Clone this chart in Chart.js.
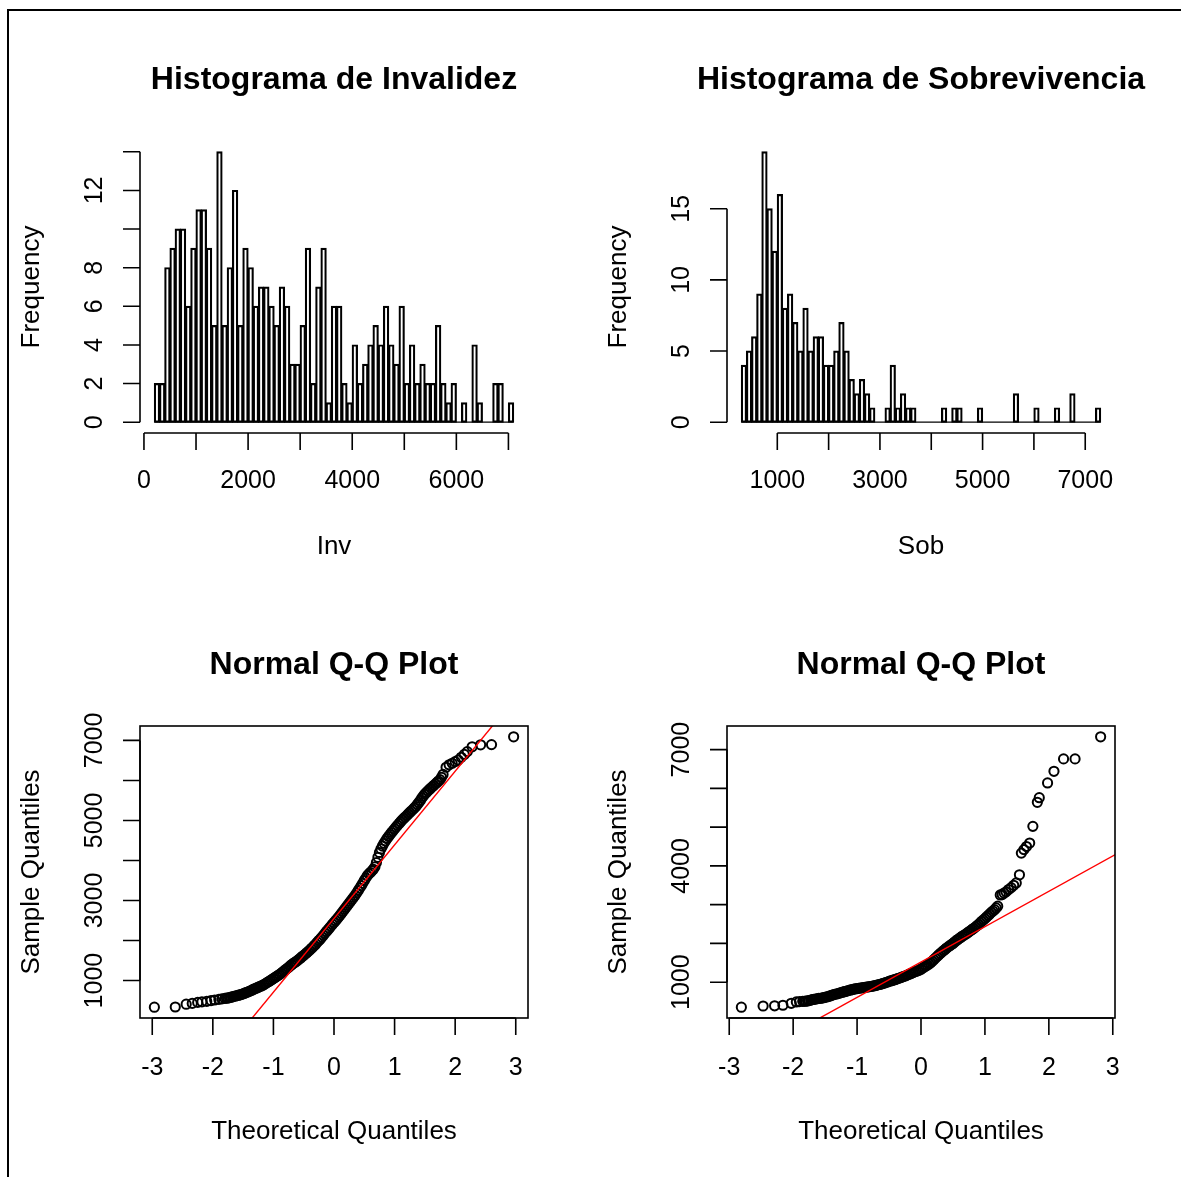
<!DOCTYPE html>
<html>
<head>
<meta charset="utf-8">
<title>Invalidez y Sobrevivencia</title>
<script src="https://cdn.jsdelivr.net/npm/chart.js@4.4.1/dist/chart.umd.min.js"></script>
<style>
  body { margin: 0; background: #fff; }
  #page { position: relative; width: 1181px; height: 1177px; overflow: hidden; background: #fff; }
  #frame { position: absolute; left: 7px; top: 9px; width: 1200px; height: 1200px;
           border-top: 2px solid #000; border-left: 2px solid #000; }
  canvas { position: absolute; left: 0; top: 0; }
</style>
</head>
<body>
<div id="page">
  <div id="frame"></div>
  <canvas id="histInv" width="1181" height="1177"></canvas>
  <canvas id="histSob" width="1181" height="1177"></canvas>
  <canvas id="qqInv" width="1181" height="1177"></canvas>
  <canvas id="qqSob" width="1181" height="1177"></canvas>
</div>
<script>
// ---- Histograma de Invalidez (Inv): classes of 100 starting at 200
const invBreakStart = 200;
const invBinWidth = 100;
const invCounts = [
  2, 2, 8, 9, 10, 10, 6, 9, 11, 11, 9, 5, 14, 5, 8, 12, 5, 9, 8, 6, 7, 7, 6,
  5, 7, 6, 3, 3, 5, 9, 2, 7, 9, 1, 6, 6, 2, 1, 4, 2, 3, 4, 5, 4, 6, 4,
  3, 6, 2, 4, 2, 3, 2, 2, 5, 2, 1, 2, 0, 1, 0, 4, 1, 0, 0, 2, 2, 0, 1
];
const invXTicks = [0, 1000, 2000, 3000, 4000, 5000, 6000, 7000];
const invXLabels = [0, 2000, 4000, 6000];
const invYTicks = [0, 2, 4, 6, 8, 10, 12, 14];
const invYLabels = [0, 2, 4, 6, 8, 12];

// ---- Histograma de Sobrevivencia (Sob): classes of 100 starting at 300
const sobBreakStart = 300;
const sobBinWidth = 100;
const sobCounts = [
  4, 5, 6, 9, 19, 15, 12, 16, 8, 9, 7, 5, 8, 5, 6, 6, 4, 4, 5, 7, 5, 3, 2, 3,
  2, 1, 0, 0, 1, 4, 1, 2, 1, 1, 0,
  0, 0, 0, 0, 1, 0, 1, 1, 0, 0, 0, 1, 0, 0, 0, 0, 0, 0, 2, 0, 0, 0, 1,
  0, 0, 0, 1, 0, 0, 2, 0, 0, 0, 0, 1
];
const sobXTicks = [1000, 2000, 3000, 4000, 5000, 6000, 7000];
const sobXLabels = [1000, 3000, 5000, 7000];
const sobYTicks = [0, 5, 10, 15];
const sobYLabels = [0, 5, 10, 15];

// ---- Normal Q-Q plot of Inv (theoretical quantile, sample quantile)
const qqInvTheo = [
  -2.965, -2.62, -2.44, -2.34, -2.25, -2.18, -2.10, -2.03, -1.97, -1.90, -1.85,
  -1.80, -1.75, -1.70, -1.65, -1.60, -1.55, -1.50, -1.45, -1.40, -1.35,
  -1.30, -1.25, -1.20, -1.15, -1.10, -1.05, -1.00, -0.95, -0.90, -0.85,
  -0.80, -0.75, -0.70, -0.65, -0.60, -0.55, -0.50, -0.45, -0.40, -0.35,
  -0.30, -0.25, -0.20, -0.15, -0.10, -0.05, 0.00, 0.05, 0.10, 0.15,
  0.20, 0.25, 0.30, 0.35, 0.40, 0.45, 0.50, 0.55, 0.60, 0.65,
  0.70, 0.75, 0.80, 0.85, 0.90, 0.95, 1.00, 1.05, 1.10, 1.15,
  1.20, 1.25, 1.30, 1.35, 1.40, 1.45, 1.50, 1.55, 1.60, 1.65,
  1.70, 1.75, 1.80, 1.85, 1.90, 1.95, 2.00, 2.05, 2.10, 2.15, 2.20,
  2.28, 2.42, 2.60, 2.965
];
const qqInvSample = [
  335, 340, 410, 430, 455, 470, 480, 500, 515, 530, 545,
  555, 565, 585, 605, 625, 645, 670, 700, 730, 765,
  800, 835, 865, 905, 955, 1000, 1050, 1100, 1150, 1210,
  1270, 1330, 1395, 1450, 1505, 1565, 1630, 1695, 1760, 1835,
  1915, 2000, 2085, 2180, 2270, 2360, 2450, 2540, 2630, 2730,
  2830, 2930, 3030, 3130, 3250, 3370, 3500, 3620, 3700, 3780,
  3950, 4200, 4360, 4490, 4600, 4700, 4790, 4880, 4970, 5050,
  5120, 5200, 5270, 5350, 5450, 5560, 5660, 5740, 5810, 5880,
  5950, 6020, 6150, 6330, 6390, 6430, 6470, 6510, 6580, 6650, 6720,
  6840, 6890, 6895, 7090
];
// further points read along the dense (solid black) part of the band
const qqInvBandTheo = [
  -1.775, -1.725, -1.675, -1.625, -1.575, -1.525, -1.475, -1.425, -1.375, -1.325,
  -1.275, -1.225, -1.175, -1.125, -1.075, -1.025, -0.975, -0.925, -0.875, -0.825,
  -0.775, -0.725, -0.675, -0.625, -0.575, -0.525, -0.475, -0.425, -0.375, -0.325,
  -0.275, -0.225, -0.175, -0.125, -0.075, -0.025, 0.025, 0.075, 0.125, 0.175,
  0.225, 0.275, 0.325, 0.375, 0.425, 0.475, 0.525, 0.575, 0.625, 0.675,
  0.725, 0.775, 0.825, 0.875, 0.925, 0.975, 1.025, 1.075, 1.125, 1.175,
  1.225, 1.275, 1.325, 1.375, 1.425, 1.475, 1.525, 1.575, 1.625, 1.675,
  1.725, 1.775
];
const qqInvBandSample = [
  560, 575, 595, 615, 635, 655, 685, 715, 745, 785,
  815, 850, 885, 930, 975, 1025, 1075, 1125, 1180, 1240,
  1300, 1365, 1425, 1475, 1535, 1600, 1660, 1730, 1800, 1875,
  1960, 2040, 2130, 2225, 2315, 2405, 2495, 2585, 2680, 2780,
  2880, 2980, 3080, 3190, 3310, 3430, 3560, 3665, 3740, 3840,
  4080, 4290, 4430, 4550, 4650, 4745, 4835, 4925, 5010, 5085,
  5160, 5235, 5310, 5400, 5500, 5610, 5700, 5775, 5845, 5915,
  5985, 6080
];
const qqInvLine = { intercept: 2550, slope: 1840 };
const qqInvXTicks = [-3, -2, -1, 0, 1, 2, 3];
const qqInvYTicks = [1000, 2000, 3000, 4000, 5000, 6000, 7000];
const qqInvYLabels = [1000, 3000, 5000, 7000];

// ---- Normal Q-Q plot of Sob
const qqSobTheo = [
  -2.81, -2.47, -2.29, -2.16, -2.03, -1.95, -1.90,
  -1.85, -1.80, -1.75, -1.70, -1.65, -1.60, -1.55, -1.50, -1.45, -1.40,
  -1.35, -1.30, -1.25, -1.20, -1.15, -1.10, -1.05, -1.00, -0.95, -0.90,
  -0.85, -0.80, -0.75, -0.70, -0.65, -0.60, -0.55, -0.50, -0.45, -0.40,
  -0.35, -0.30, -0.25, -0.20, -0.15, -0.10, -0.05, 0.00, 0.05, 0.10,
  0.15, 0.20, 0.25, 0.30, 0.35, 0.40, 0.45, 0.50, 0.55, 0.60,
  0.65, 0.70, 0.75, 0.80, 0.85, 0.90, 0.95, 1.00, 1.05, 1.10, 1.15, 1.20,
  1.24, 1.27, 1.30, 1.33, 1.37, 1.41, 1.45, 1.49, 1.54, 1.57, 1.61,
  1.65, 1.70, 1.75, 1.82, 1.85, 1.98, 2.08, 2.23, 2.41, 2.81
];
const qqSobSample = [
  355, 385, 390, 405, 455, 490, 500,
  505, 510, 525, 550, 565, 580, 590, 610, 630, 660,
  685, 705, 730, 755, 775, 800, 820, 835, 850, 860,
  875, 885, 900, 920, 940, 965, 990, 1020, 1045, 1070,
  1100, 1130, 1160, 1195, 1230, 1265, 1295, 1335, 1390, 1440,
  1500, 1580, 1660, 1740, 1810, 1880, 1940, 2000, 2070, 2130,
  2190, 2240, 2300, 2360, 2420, 2490, 2570, 2640, 2720, 2800, 2870, 2960,
  3250, 3260, 3300, 3330, 3390, 3440, 3500, 3560, 3770, 4330, 4420,
  4500, 4590, 5020, 5640, 5760, 6140, 6440, 6760, 6760, 7330
];
const qqSobBandTheo = [
  -1.825, -1.775, -1.725, -1.675, -1.625, -1.575, -1.525, -1.475, -1.425, -1.375,
  -1.325, -1.275, -1.225, -1.175, -1.125, -1.075, -1.025, -0.975, -0.925, -0.875,
  -0.825, -0.775, -0.725, -0.675, -0.625, -0.575, -0.525, -0.475, -0.425, -0.375,
  -0.325, -0.275, -0.225, -0.175, -0.125, -0.075, -0.025, 0.025, 0.075, 0.125,
  0.175, 0.225, 0.275, 0.325, 0.375, 0.425, 0.475, 0.525, 0.575, 0.625,
  0.675, 0.725, 0.775, 0.825, 0.875, 0.925, 0.975, 1.025, 1.075, 1.125, 1.175
];
const qqSobBandSample = [
  508, 518, 538, 558, 572, 585, 600, 620, 645, 672,
  695, 718, 742, 765, 788, 810, 828, 842, 855, 868,
  880, 892, 910, 930, 952, 978, 1005, 1032, 1058, 1085,
  1115, 1145, 1178, 1212, 1248, 1280, 1315, 1362, 1415, 1470,
  1540, 1620, 1700, 1775, 1845, 1910, 1970, 2035, 2100, 2160,
  2215, 2270, 2330, 2390, 2455, 2530, 2605, 2680, 2760, 2835, 2915
];
const qqSobLine = { intercept: 1520, slope: 912 };
const qqSobXTicks = [-3, -2, -1, 0, 1, 2, 3];
const qqSobYTicks = [1000, 2000, 3000, 4000, 5000, 6000, 7000];
const qqSobYLabels = [1000, 4000, 7000];

// ---- Layout (page pixels): plot regions [left, top, right, bottom]
const W = 1181, H = 1177;
const TICK_FONT = '25px "Liberation Sans", Arial, sans-serif';
const LAB_FONT = '26px "Liberation Sans", Arial, sans-serif';
const TITLE_FONT = 'bold 32px "Liberation Sans", Arial, sans-serif';
const LINE_W = 1.6;
const TICK_LEN = 17;

function padFor(rect) {
    return { left: rect[0], top: rect[1], right: W - rect[2], bottom: H - rect[3] };
}

// R base-graphics look: axis lines spanning first..last tick, outward ticks,
// labels parallel to the axis, optional box, titles.
const rStyle = {
    id: 'rStyle',
    afterDatasetsDraw(chart, args, o) {
        const ctx = chart.ctx;
        const a = chart.chartArea;
        const xs = chart.scales.x;
        const ys = chart.scales.y;
        ctx.save();
        ctx.strokeStyle = '#000';
        ctx.fillStyle = '#000';
        ctx.lineWidth = LINE_W;

        if (o.box) {
            ctx.strokeRect(a.left, a.top, a.right - a.left, a.bottom - a.top);
        }

        // x axis
        const xp = o.xTicks.map(v => xs.getPixelForValue(v));
        ctx.beginPath();
        ctx.moveTo(xp[0], a.bottom);
        ctx.lineTo(xp[xp.length - 1], a.bottom);
        xp.forEach(p => { ctx.moveTo(p, a.bottom); ctx.lineTo(p, a.bottom + TICK_LEN); });
        ctx.stroke();

        // y axis
        const yp = o.yTicks.map(v => ys.getPixelForValue(v));
        ctx.beginPath();
        ctx.moveTo(a.left, yp[0]);
        ctx.lineTo(a.left, yp[yp.length - 1]);
        yp.forEach(p => { ctx.moveTo(a.left, p); ctx.lineTo(a.left - TICK_LEN, p); });
        ctx.stroke();

        ctx.font = TICK_FONT;
        ctx.textAlign = 'center';
        ctx.textBaseline = 'middle';
        o.xTicks.forEach((v, i) => {
            if (o.xLabels.includes(v)) ctx.fillText(String(v), xp[i], a.bottom + o.labGap);
        });
        o.yTicks.forEach((v, i) => {
            if (!o.yLabels.includes(v)) return;
            ctx.save();
            ctx.translate(a.left - 45, yp[i]);
            ctx.rotate(-Math.PI / 2);
            ctx.fillText(String(v), 0, 0);
            ctx.restore();
        });

        // axis titles
        const cx = (a.left + a.right) / 2;
        const cy = (a.top + a.bottom) / 2;
        ctx.font = LAB_FONT;
        ctx.fillText(o.xTitle, cx, a.bottom + 114);
        ctx.save();
        ctx.translate(a.left - 108, cy);
        ctx.rotate(-Math.PI / 2);
        ctx.fillText(o.yTitle, 0, 0);
        ctx.restore();

        // main title
        ctx.font = TITLE_FONT;
        ctx.fillText(o.title, cx, a.top - 61);
        ctx.restore();
    }
};

function drawHist(id, rect, start, width, counts, axes) {
    const bars = counts.map((c, i) => ({ x: start + width * (i + 0.5), y: c }));
    const end = start + width * counts.length;
    const span = end - start;
    const top = Math.max(...counts);

    new Chart(document.getElementById(id), {
        type: 'bar',
        data: {
            datasets: [{
                data: bars,
                backgroundColor: 'rgba(0,0,0,0)',
                borderColor: '#000',
                borderWidth: 1.1,
                borderSkipped: false,
                inflateAmount: 0.55,
                barPercentage: 1,
                categoryPercentage: 1
            }, {
                // baseline under the bars (empty classes included)
                type: 'line',
                data: [{ x: start, y: 0 }, { x: end, y: 0 }],
                borderColor: '#000',
                borderWidth: 1.3,
                pointRadius: 0
            }]
        },
        options: {
            responsive: false,
            animation: false,
            devicePixelRatio: 1,
            layout: { padding: padFor(rect) },
            plugins: { legend: { display: false }, tooltip: { enabled: false }, rStyle: axes },
            scales: {
                x: { type: 'linear', display: false, offset: false,
                     min: start - 0.04 * span, max: end + 0.04 * span },
                y: { type: 'linear', display: false, min: -0.04 * top, max: top * 1.04 }
            }
        },
        plugins: [rStyle]
    });
}

function drawQQ(id, rect, theo, sample, bandTheo, bandSample, line, axes) {
    const pts = theo.map((t, i) => ({ x: t, y: sample[i] }))
        .concat(bandTheo.map((t, i) => ({ x: t, y: bandSample[i] })));
    const xr = Math.max(...theo) - Math.min(...theo);
    const yr = Math.max(...sample) - Math.min(...sample);
    const xMin = Math.min(...theo) - 0.04 * xr;
    const xMax = Math.max(...theo) + 0.04 * xr;
    const yMin = Math.min(...sample) - 0.04 * yr;
    const yMax = Math.max(...sample) + 0.04 * yr;
    // qqline, extended past the box and clipped by the chart area
    const ends = [xMin - 1, xMax + 1].map(x => ({ x: x, y: line.intercept + line.slope * x }));

    new Chart(document.getElementById(id), {
        type: 'scatter',
        data: {
            datasets: [{
                data: pts,
                order: 2,
                pointStyle: 'circle',
                pointRadius: 4.6,
                pointBorderWidth: 2,
                pointBorderColor: '#000',
                pointBackgroundColor: 'rgba(0,0,0,0)'
            }, {
                // drawn after the points, like qqline()
                type: 'line',
                data: ends,
                order: 1,
                borderColor: '#ff0000',
                borderWidth: 1.4,
                pointRadius: 0
            }]
        },
        options: {
            responsive: false,
            animation: false,
            devicePixelRatio: 1,
            layout: { padding: padFor(rect) },
            plugins: { legend: { display: false }, tooltip: { enabled: false }, rStyle: axes },
            scales: {
                x: { type: 'linear', display: false, min: xMin, max: xMax },
                y: { type: 'linear', display: false, min: yMin, max: yMax }
            }
        },
        plugins: [rStyle]
    });
}

drawHist('histInv', [140, 141, 528, 433], invBreakStart, invBinWidth, invCounts, {
    title: 'Histograma de Invalidez', xTitle: 'Inv', yTitle: 'Frequency', labGap: 48,
    xTicks: invXTicks, xLabels: invXLabels, yTicks: invYTicks, yLabels: invYLabels, box: false
});

drawHist('histSob', [727, 141, 1115, 433], sobBreakStart, sobBinWidth, sobCounts, {
    title: 'Histograma de Sobrevivencia', xTitle: 'Sob', yTitle: 'Frequency', labGap: 48,
    xTicks: sobXTicks, xLabels: sobXLabels, yTicks: sobYTicks, yLabels: sobYLabels, box: false
});

drawQQ('qqInv', [140, 726, 528, 1018], qqInvTheo, qqInvSample, qqInvBandTheo, qqInvBandSample, qqInvLine, {
    title: 'Normal Q-Q Plot', xTitle: 'Theoretical Quantiles', yTitle: 'Sample Quantiles', labGap: 50,
    xTicks: qqInvXTicks, xLabels: qqInvXTicks, yTicks: qqInvYTicks, yLabels: qqInvYLabels, box: true
});

drawQQ('qqSob', [727, 726, 1115, 1018], qqSobTheo, qqSobSample, qqSobBandTheo, qqSobBandSample, qqSobLine, {
    title: 'Normal Q-Q Plot', xTitle: 'Theoretical Quantiles', yTitle: 'Sample Quantiles', labGap: 50,
    xTicks: qqSobXTicks, xLabels: qqSobXTicks, yTicks: qqSobYTicks, yLabels: qqSobYLabels, box: true
});
</script>
</body>
</html>
